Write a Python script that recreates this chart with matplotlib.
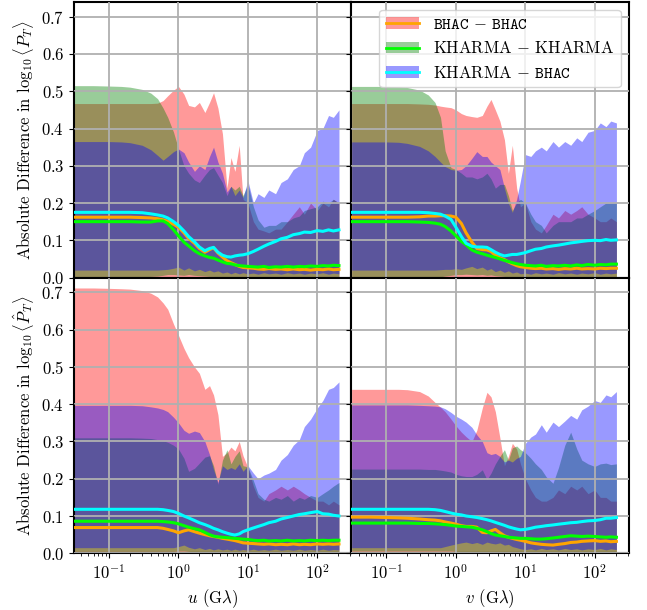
import matplotlib
matplotlib.use('Agg')
import matplotlib.pyplot as plt
from matplotlib.patches import Patch
from matplotlib.lines import Line2D

plt.rcParams['font.family'] = 'serif'
plt.rcParams['font.serif'] = ['cmr10']
plt.rcParams['mathtext.fontset'] = 'cm'
plt.rcParams['axes.formatter.use_mathtext'] = True
plt.rcParams['font.size'] = 12
plt.rcParams['axes.linewidth'] = 1.5

# baseline (G lambda) sample points shared by all curves
u_knots = [0.0315, 0.06, 0.1, 0.15, 0.2, 0.3, 0.4, 0.5, 0.6, 0.7, 0.85,
           1.0, 1.2, 1.4, 1.7, 2.0, 2.4, 2.8, 3.2, 3.7, 4.3, 5.0, 5.7, 6.5, 7.5, 8.5,
           10, 12, 14, 17, 20, 25, 30, 37, 45, 55, 65, 80, 100, 120, 145, 170, 205]

zero_lo = [0.0] * 43

# ---- top left: log10 <P_T> vs u ----
tl_red_hi = [0.467, 0.467, 0.467, 0.467, 0.467, 0.467, 0.467, 0.468, 0.475, 0.488, 0.503,
             0.513, 0.492, 0.462, 0.458, 0.470, 0.443, 0.470, 0.496, 0.455, 0.386, 0.240, 0.322, 0.285, 0.355, 0.210,
             0.200, 0.150, 0.130, 0.125, 0.120, 0.130, 0.130, 0.150, 0.170, 0.190, 0.170, 0.200, 0.180, 0.200, 0.190, 0.210, 0.200]
tl_green_hi = [0.515, 0.515, 0.514, 0.513, 0.511, 0.505, 0.495, 0.480, 0.455, 0.430, 0.390,
               0.345, 0.300, 0.280, 0.262, 0.255, 0.275, 0.290, 0.295, 0.275, 0.255, 0.220, 0.245, 0.235, 0.245, 0.220,
               0.250, 0.190, 0.155, 0.135, 0.140, 0.140, 0.150, 0.150, 0.160, 0.165, 0.180, 0.185, 0.190, 0.205, 0.200, 0.210, 0.200]
tl_green_lo = [0.002, 0.002, 0.002, 0.002, 0.002, 0.002, 0.003, 0.004, 0.006, 0.008, 0.008,
               0.007, 0.006, 0.008, 0.006, 0.005, 0.004, 0.003, 0.003, 0.002, 0.002, 0.002, 0.002, 0.002, 0.002, 0.002,
               0.002, 0.002, 0.002, 0.002, 0.002, 0.002, 0.002, 0.002, 0.002, 0.002, 0.002, 0.002, 0.002, 0.002, 0.002, 0.002, 0.002]
tl_blue_hi = [0.365, 0.365, 0.365, 0.364, 0.362, 0.355, 0.343, 0.328, 0.315, 0.325, 0.338,
              0.345, 0.335, 0.310, 0.285, 0.300, 0.290, 0.325, 0.350, 0.310, 0.280, 0.230, 0.245, 0.220, 0.235, 0.215,
              0.260, 0.200, 0.225, 0.215, 0.235, 0.225, 0.255, 0.265, 0.290, 0.300, 0.335, 0.350, 0.395, 0.400, 0.435, 0.430, 0.450]
tl_blue_lo = [0.020, 0.020, 0.020, 0.020, 0.020, 0.020, 0.020, 0.020, 0.021, 0.022, 0.025,
              0.028, 0.020, 0.026, 0.018, 0.022, 0.016, 0.020, 0.015, 0.018, 0.012, 0.015, 0.010, 0.014, 0.010, 0.013,
              0.010, 0.012, 0.009, 0.013, 0.010, 0.012, 0.009, 0.013, 0.010, 0.012, 0.009, 0.012, 0.010, 0.013, 0.009, 0.012, 0.010]
tl_orange = [0.162, 0.162, 0.162, 0.162, 0.162, 0.161, 0.160, 0.158, 0.155, 0.151, 0.143,
             0.135, 0.120, 0.105, 0.092, 0.078, 0.068, 0.075, 0.080, 0.066, 0.055, 0.045, 0.040, 0.035, 0.030, 0.027,
             0.026, 0.025, 0.023, 0.022, 0.024, 0.022, 0.023, 0.021, 0.023, 0.021, 0.022, 0.020, 0.022, 0.021, 0.023, 0.021, 0.022]
tl_lime = [0.150, 0.150, 0.150, 0.150, 0.150, 0.149, 0.149, 0.152, 0.152, 0.145, 0.128,
           0.112, 0.095, 0.085, 0.072, 0.064, 0.058, 0.054, 0.052, 0.047, 0.042, 0.038, 0.037, 0.034, 0.032, 0.031,
           0.030, 0.029, 0.028, 0.030, 0.027, 0.029, 0.028, 0.030, 0.028, 0.030, 0.029, 0.031, 0.030, 0.032, 0.031, 0.033, 0.032]
tl_cyan = [0.175, 0.175, 0.175, 0.175, 0.175, 0.174, 0.171, 0.168, 0.165, 0.160, 0.150,
           0.140, 0.125, 0.110, 0.096, 0.082, 0.072, 0.078, 0.081, 0.068, 0.060, 0.056, 0.055, 0.058, 0.060, 0.061,
           0.064, 0.070, 0.076, 0.084, 0.090, 0.097, 0.104, 0.108, 0.115, 0.118, 0.122, 0.121, 0.126, 0.124, 0.128, 0.125, 0.128]

# ---- top right: log10 <P_T> vs v ----
tr_red_hi = [0.467, 0.467, 0.467, 0.467, 0.467, 0.466, 0.465, 0.463, 0.460, 0.458, 0.456,
             0.450, 0.440, 0.435, 0.432, 0.430, 0.435, 0.460, 0.478, 0.450, 0.420, 0.370, 0.280, 0.355, 0.240, 0.190,
             0.200, 0.150, 0.130, 0.120, 0.140, 0.170, 0.160, 0.180, 0.170, 0.180, 0.190, 0.170, 0.160, 0.150, 0.150, 0.160, 0.150]
tr_green_hi = [0.513, 0.513, 0.513, 0.512, 0.510, 0.503, 0.490, 0.470, 0.430, 0.340, 0.295,
               0.290, 0.280, 0.270, 0.270, 0.265, 0.270, 0.280, 0.265, 0.240, 0.250, 0.250, 0.220, 0.180, 0.200, 0.210,
               0.200, 0.170, 0.150, 0.140, 0.120, 0.140, 0.150, 0.150, 0.150, 0.160, 0.160, 0.170, 0.180, 0.190, 0.200, 0.200, 0.200]
tr_green_lo = [0.002, 0.002, 0.002, 0.002, 0.002, 0.002, 0.002, 0.002, 0.002, 0.004, 0.006,
               0.008, 0.008, 0.009, 0.008, 0.007, 0.008, 0.006, 0.007, 0.005, 0.004, 0.003, 0.002, 0.002, 0.002, 0.002,
               0.002, 0.002, 0.002, 0.002, 0.002, 0.002, 0.002, 0.002, 0.002, 0.002, 0.002, 0.002, 0.002, 0.002, 0.002, 0.002, 0.002]
tr_blue_hi = [0.364, 0.364, 0.364, 0.363, 0.360, 0.352, 0.340, 0.325, 0.310, 0.298, 0.290,
              0.288, 0.290, 0.300, 0.320, 0.338, 0.325, 0.325, 0.310, 0.300, 0.290, 0.240, 0.200, 0.175, 0.210, 0.260,
              0.330, 0.325, 0.340, 0.350, 0.340, 0.365, 0.350, 0.365, 0.355, 0.375, 0.365, 0.390, 0.395, 0.415, 0.405, 0.420, 0.415]
tr_blue_lo = [0.020, 0.020, 0.020, 0.020, 0.020, 0.020, 0.020, 0.020, 0.021, 0.022, 0.022,
              0.024, 0.022, 0.026, 0.030, 0.024, 0.028, 0.020, 0.024, 0.016, 0.020, 0.014, 0.018, 0.012, 0.015, 0.010,
              0.012, 0.009, 0.013, 0.010, 0.012, 0.009, 0.013, 0.010, 0.012, 0.009, 0.012, 0.010, 0.013, 0.009, 0.012, 0.010, 0.012]
tr_orange = [0.162, 0.162, 0.162, 0.162, 0.162, 0.163, 0.165, 0.165, 0.166, 0.166, 0.165,
             0.162, 0.145, 0.120, 0.095, 0.078, 0.075, 0.074, 0.070, 0.060, 0.053, 0.048, 0.042, 0.037, 0.032, 0.029,
             0.027, 0.025, 0.024, 0.025, 0.023, 0.024, 0.022, 0.024, 0.023, 0.025, 0.023, 0.024, 0.023, 0.025, 0.024, 0.025, 0.025]
tr_lime = [0.150, 0.150, 0.150, 0.150, 0.150, 0.149, 0.148, 0.146, 0.143, 0.137, 0.125,
           0.112, 0.097, 0.088, 0.074, 0.068, 0.064, 0.060, 0.057, 0.054, 0.050, 0.046, 0.043, 0.040, 0.037, 0.035,
           0.033, 0.032, 0.031, 0.033, 0.030, 0.032, 0.031, 0.033, 0.031, 0.034, 0.032, 0.035, 0.033, 0.035, 0.034, 0.036, 0.036]
tr_cyan = [0.175, 0.175, 0.175, 0.175, 0.175, 0.175, 0.174, 0.172, 0.170, 0.165, 0.156,
           0.135, 0.110, 0.092, 0.084, 0.082, 0.082, 0.081, 0.075, 0.068, 0.062, 0.058, 0.060, 0.062, 0.062, 0.064,
           0.067, 0.072, 0.076, 0.078, 0.082, 0.085, 0.087, 0.090, 0.093, 0.095, 0.097, 0.099, 0.100, 0.099, 0.102, 0.100, 0.101]

# ---- bottom left: log10 <P_T hat> vs u ----
bl_red_hi = [0.712, 0.712, 0.711, 0.710, 0.709, 0.705, 0.698, 0.688, 0.672, 0.655, 0.615,
             0.585, 0.550, 0.525, 0.500, 0.483, 0.440, 0.450, 0.425, 0.372, 0.260, 0.270, 0.285, 0.275, 0.300, 0.262,
             0.230, 0.180, 0.150, 0.140, 0.160, 0.170, 0.180, 0.170, 0.180, 0.170, 0.160, 0.150, 0.140, 0.140, 0.130, 0.140, 0.130]
bl_green_hi = [0.310, 0.310, 0.310, 0.310, 0.310, 0.309, 0.308, 0.305, 0.302, 0.298, 0.290,
               0.280, 0.255, 0.220, 0.228, 0.242, 0.258, 0.262, 0.235, 0.185, 0.250, 0.278, 0.240, 0.260, 0.275, 0.235,
               0.232, 0.195, 0.160, 0.145, 0.140, 0.150, 0.145, 0.155, 0.140, 0.150, 0.145, 0.155, 0.150, 0.160, 0.170, 0.180, 0.190]
bl_green_lo = [0.005, 0.005, 0.005, 0.005, 0.005, 0.005, 0.005, 0.005, 0.005, 0.005, 0.005,
               0.006, 0.006, 0.005, 0.004, 0.004, 0.003, 0.003, 0.002, 0.002, 0.002, 0.002, 0.002, 0.002, 0.002, 0.002,
               0.002, 0.002, 0.002, 0.002, 0.002, 0.002, 0.002, 0.002, 0.002, 0.002, 0.002, 0.002, 0.002, 0.002, 0.002, 0.002, 0.002]
bl_blue_hi = [0.397, 0.397, 0.397, 0.397, 0.397, 0.396, 0.393, 0.390, 0.386, 0.380, 0.365,
              0.350, 0.330, 0.322, 0.328, 0.324, 0.300, 0.265, 0.225, 0.190, 0.235, 0.225, 0.230, 0.225, 0.240, 0.220,
              0.235, 0.215, 0.200, 0.210, 0.215, 0.225, 0.250, 0.265, 0.290, 0.305, 0.340, 0.360, 0.390, 0.410, 0.440, 0.445, 0.460]
bl_blue_lo = [0.015, 0.015, 0.015, 0.015, 0.015, 0.015, 0.015, 0.015, 0.015, 0.015, 0.015,
              0.018, 0.022, 0.016, 0.012, 0.015, 0.010, 0.013, 0.009, 0.012, 0.009, 0.011, 0.008, 0.011, 0.008, 0.010,
              0.008, 0.011, 0.008, 0.010, 0.008, 0.011, 0.008, 0.010, 0.008, 0.011, 0.008, 0.010, 0.008, 0.011, 0.008, 0.010, 0.009]
bl_orange = [0.069, 0.069, 0.069, 0.069, 0.069, 0.069, 0.069, 0.069, 0.067, 0.064, 0.060,
             0.055, 0.060, 0.063, 0.058, 0.054, 0.050, 0.047, 0.045, 0.043, 0.040, 0.038, 0.036, 0.034, 0.031, 0.028,
             0.027, 0.026, 0.025, 0.024, 0.025, 0.023, 0.024, 0.023, 0.025, 0.023, 0.024, 0.023, 0.025, 0.024, 0.025, 0.024, 0.025]
bl_lime = [0.086, 0.086, 0.086, 0.086, 0.086, 0.086, 0.086, 0.086, 0.085, 0.084, 0.082,
           0.079, 0.074, 0.070, 0.066, 0.063, 0.056, 0.050, 0.046, 0.044, 0.043, 0.042, 0.041, 0.040, 0.039, 0.038,
           0.037, 0.035, 0.034, 0.035, 0.033, 0.034, 0.033, 0.035, 0.033, 0.034, 0.033, 0.035, 0.034, 0.035, 0.034, 0.035, 0.035]
bl_cyan = [0.118, 0.118, 0.118, 0.118, 0.118, 0.118, 0.118, 0.118, 0.117, 0.115, 0.112,
           0.107, 0.100, 0.095, 0.088, 0.082, 0.077, 0.072, 0.067, 0.063, 0.058, 0.054, 0.051, 0.049, 0.052, 0.058,
           0.063, 0.068, 0.072, 0.077, 0.082, 0.086, 0.092, 0.096, 0.100, 0.104, 0.106, 0.109, 0.112, 0.106, 0.105, 0.102, 0.100]

# ---- bottom right: log10 <P_T hat> vs v ----
br_red_hi = [0.440, 0.440, 0.440, 0.440, 0.439, 0.434, 0.422, 0.405, 0.392, 0.380, 0.360,
             0.342, 0.325, 0.313, 0.300, 0.330, 0.390, 0.432, 0.420, 0.380, 0.310, 0.235, 0.260, 0.295, 0.280, 0.240,
             0.200, 0.170, 0.150, 0.140, 0.140, 0.150, 0.170, 0.160, 0.180, 0.170, 0.180, 0.160, 0.170, 0.150, 0.150, 0.140, 0.140]
br_green_hi = [0.226, 0.226, 0.226, 0.226, 0.226, 0.226, 0.225, 0.225, 0.223, 0.221, 0.218,
               0.212, 0.208, 0.206, 0.206, 0.212, 0.224, 0.198, 0.215, 0.240, 0.260, 0.278, 0.250, 0.283, 0.288, 0.278,
               0.270, 0.255, 0.240, 0.225, 0.205, 0.188, 0.230, 0.290, 0.325, 0.280, 0.250, 0.240, 0.233, 0.240, 0.242, 0.238, 0.240]
br_green_lo = [0.006, 0.006, 0.006, 0.006, 0.006, 0.006, 0.006, 0.006, 0.006, 0.006, 0.006,
               0.005, 0.004, 0.003, 0.002, 0.002, 0.002, 0.002, 0.002, 0.002, 0.002, 0.002, 0.002, 0.002, 0.002, 0.002,
               0.002, 0.002, 0.002, 0.002, 0.002, 0.002, 0.002, 0.002, 0.002, 0.002, 0.002, 0.002, 0.002, 0.002, 0.002, 0.002, 0.002]
br_blue_hi = [0.398, 0.398, 0.398, 0.398, 0.398, 0.397, 0.396, 0.395, 0.393, 0.388, 0.378,
              0.368, 0.360, 0.352, 0.338, 0.318, 0.300, 0.270, 0.265, 0.268, 0.260, 0.245, 0.250, 0.245, 0.255, 0.260,
              0.295, 0.312, 0.320, 0.345, 0.325, 0.352, 0.340, 0.355, 0.370, 0.360, 0.385, 0.395, 0.410, 0.405, 0.425, 0.420, 0.434]
br_blue_lo = [0.015, 0.015, 0.015, 0.015, 0.015, 0.015, 0.015, 0.015, 0.015, 0.018, 0.022,
              0.025, 0.028, 0.030, 0.026, 0.029, 0.024, 0.030, 0.027, 0.025, 0.028, 0.022, 0.024, 0.018, 0.015, 0.012,
              0.010, 0.012, 0.009, 0.013, 0.010, 0.012, 0.009, 0.013, 0.010, 0.012, 0.009, 0.012, 0.010, 0.013, 0.009, 0.012, 0.010]
br_orange = [0.097, 0.097, 0.096, 0.095, 0.094, 0.092, 0.090, 0.089, 0.087, 0.084, 0.081,
             0.078, 0.074, 0.072, 0.072, 0.070, 0.056, 0.055, 0.060, 0.064, 0.055, 0.047, 0.043, 0.040, 0.037, 0.035,
             0.032, 0.028, 0.026, 0.024, 0.023, 0.022, 0.024, 0.026, 0.029, 0.030, 0.032, 0.033, 0.034, 0.032, 0.033, 0.031, 0.032]
br_lime = [0.081, 0.081, 0.081, 0.081, 0.081, 0.080, 0.080, 0.079, 0.078, 0.077, 0.075,
           0.073, 0.072, 0.071, 0.070, 0.067, 0.063, 0.058, 0.053, 0.049, 0.047, 0.045, 0.043, 0.042, 0.041, 0.040,
           0.040, 0.039, 0.038, 0.038, 0.039, 0.041, 0.043, 0.045, 0.047, 0.046, 0.045, 0.046, 0.045, 0.044, 0.043, 0.044, 0.043]
br_cyan = [0.118, 0.118, 0.118, 0.118, 0.118, 0.118, 0.118, 0.117, 0.115, 0.112, 0.108,
           0.105, 0.103, 0.100, 0.098, 0.096, 0.093, 0.090, 0.087, 0.083, 0.079, 0.075, 0.071, 0.068, 0.065, 0.063,
           0.064, 0.067, 0.070, 0.072, 0.074, 0.076, 0.078, 0.080, 0.082, 0.083, 0.085, 0.087, 0.088, 0.090, 0.094, 0.094, 0.096]

labels = [r'$\mathtt{BHAC}\,-\,\mathtt{BHAC}$',
          r'$\mathrm{KHARMA}\,-\,\mathrm{KHARMA}$',
          r'$\mathrm{KHARMA}\,-\,\mathtt{BHAC}$']


def draw_panel(ax, red_hi, green_lo, green_hi, blue_lo, blue_hi, orange, lime, cyan):
    ax.fill_between(u_knots, zero_lo, red_hi, color='red', alpha=0.4, lw=0)
    ax.fill_between(u_knots, green_lo, green_hi, color='green', alpha=0.4, lw=0)
    ax.fill_between(u_knots, blue_lo, blue_hi, color='blue', alpha=0.4, lw=0)
    ax.plot(u_knots, orange, color='orange', lw=2.2, zorder=3)
    ax.plot(u_knots, lime, color='lime', lw=2.2, zorder=3)
    ax.plot(u_knots, cyan, color='cyan', lw=2.2, zorder=3)
    ax.set_xscale('log')
    ax.grid(True, which='major', color='#b0b0b0', lw=1.3)
    ax.set_axisbelow(False)


fig, axes = plt.subplots(2, 2, figsize=(6.47, 6.10), dpi=100, sharex=True, sharey=True)
fig.subplots_adjust(left=0.1144, right=0.972, bottom=0.093, top=0.997, wspace=0, hspace=0)

draw_panel(axes[0, 0], tl_red_hi, tl_green_lo, tl_green_hi, tl_blue_lo, tl_blue_hi, tl_orange, tl_lime, tl_cyan)
draw_panel(axes[0, 1], tr_red_hi, tr_green_lo, tr_green_hi, tr_blue_lo, tr_blue_hi, tr_orange, tr_lime, tr_cyan)
draw_panel(axes[1, 0], bl_red_hi, bl_green_lo, bl_green_hi, bl_blue_lo, bl_blue_hi, bl_orange, bl_lime, bl_cyan)
draw_panel(axes[1, 1], br_red_hi, br_green_lo, br_green_hi, br_blue_lo, br_blue_hi, br_orange, br_lime, br_cyan)

axes[0, 0].set_xlim(0.0313, 310)
axes[0, 0].set_ylim(0, 0.74)

axes[0, 0].set_ylabel(r'Absolute Difference in $\log_{10}\langle P_T\rangle$')
axes[1, 0].set_ylabel(r'Absolute Difference in $\log_{10}\langle \hat{P}_T\rangle$')
axes[1, 0].set_xlabel(r'$u$ (G$\lambda$)')
axes[1, 1].set_xlabel(r'$v$ (G$\lambda$)')

handles = [(Patch(color='red', alpha=0.4, lw=0), Line2D([], [], color='orange', lw=2)),
           (Patch(color='green', alpha=0.4, lw=0), Line2D([], [], color='lime', lw=2)),
           (Patch(color='blue', alpha=0.4, lw=0), Line2D([], [], color='cyan', lw=2))]
axes[0, 1].legend(handles, labels, loc='upper right', fontsize=12)

fig.savefig('out.png', dpi=100)
